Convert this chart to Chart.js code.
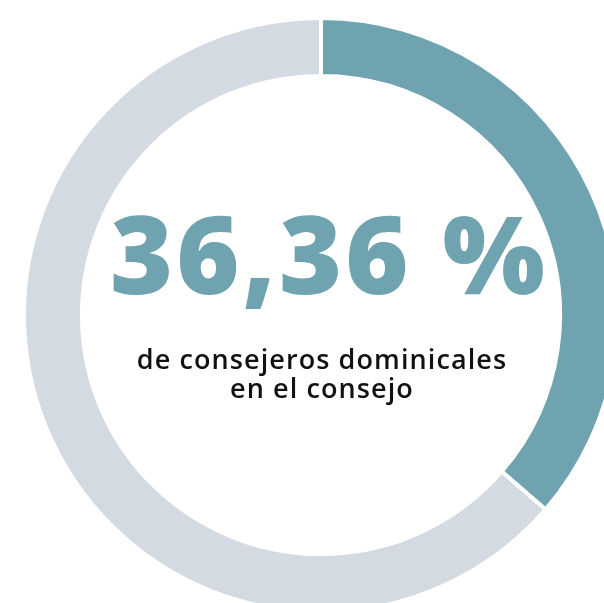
<!DOCTYPE html>
<html>
<head>
<meta charset="utf-8">
<script src="https://cdn.jsdelivr.net/npm/chart.js@4"></script>
<style>
  html, body { margin: 0; padding: 0; background: #fff; overflow: hidden; }
  body { width: 604px; height: 603px; position: relative; }
  #wrap { position: absolute; left: 22px; top: 16px; width: 598px; height: 598px; }
  .big {
    position: absolute; left: 8px; width: 642px; top: 193px; text-align: center;
    font-family: "Open Sans", sans-serif; font-weight: 800; font-size: 108px;
    line-height: 120px; color: #6fa3b0; letter-spacing: 3px;
  }
  .sub {
    position: absolute; left: 1px; width: 642px; top: 344px; text-align: center;
    font-family: "Open Sans", sans-serif; font-weight: 600; font-size: 27px;
    line-height: 29px; color: #111; letter-spacing: 1.1px;
  }
</style>
</head>
<body>
<div id="wrap"><canvas id="donut" width="598" height="598"></canvas></div>
<div class="big">36,36 %</div>
<div class="sub">de consejeros dominicales<br>en el consejo</div>
<script>
var labels = ["Consejeros dominicales", "Resto del consejo"];
var values = [36.36, 63.64];
var colors = ["#6fa3b0", "#d3dae2"];

(function () {
    var ctx = document.getElementById("donut").getContext("2d");
    new Chart(ctx, {
        type: "doughnut",
        data: {
            labels: labels,
            datasets: [{
                data: values,
                backgroundColor: colors,
                borderColor: "#ffffff",
                borderWidth: 4
            }]
        },
        options: {
            responsive: false,
            animation: false,
            cutout: "80.5%",
            events: [],
            plugins: {
                legend: { display: false },
                tooltip: { enabled: false }
            }
        }
    });
})();
</script>
</body>
</html>
